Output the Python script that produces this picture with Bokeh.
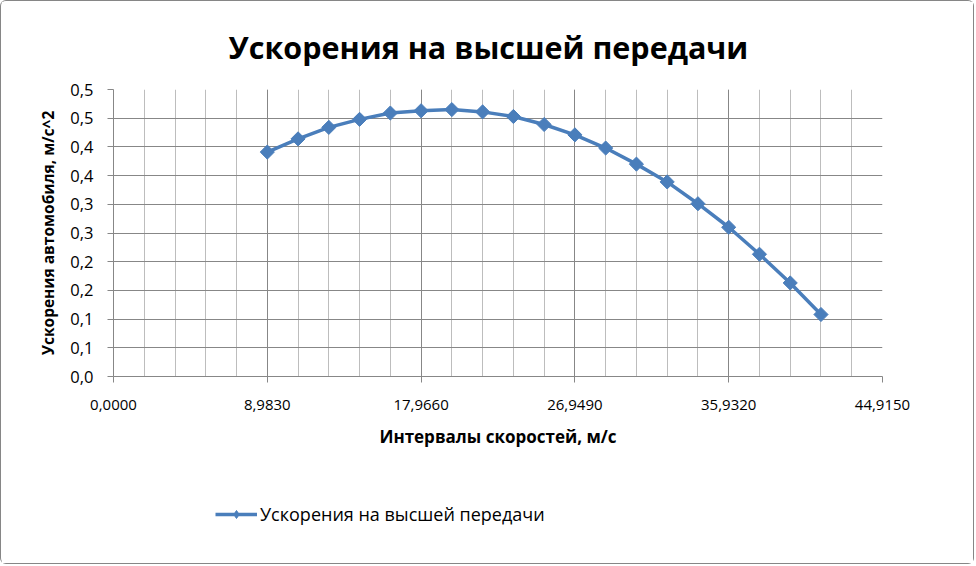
import numpy as np
from bokeh.plotting import figure
from bokeh.layouts import column
from bokeh.models import FixedTicker, Legend, LegendItem, Range1d, InlineStyleSheet, CustomJSTickFormatter
from bokeh.embed import file_html
from bokeh.resources import INLINE

# ---- data ----
speeds = [8.983, 10.7796, 12.5762, 14.3728, 16.1694, 17.966, 19.7626, 21.5592, 23.3558,
          25.1524, 26.949, 28.7456, 30.5422, 32.3388, 34.1354, 35.932, 37.7286, 39.5252, 41.3218]
accel = [0.391, 0.414, 0.434, 0.448, 0.459, 0.463, 0.465, 0.461, 0.453,
         0.439, 0.421, 0.398, 0.370, 0.339, 0.301, 0.260, 0.213, 0.163, 0.108]

x_ticks = [0, 8.983, 17.966, 26.949, 35.932, 44.915]
x_tick_labels = ["0,0000", "8,9830", "17,9660", "26,9490", "35,9320", "44,9150"]
y_ticks = [0, 0.05, 0.1, 0.15, 0.2, 0.25, 0.3, 0.35, 0.4, 0.45, 0.5]
y_tick_labels = ["0,0", "0,1", "0,1", "0,2", "0,2", "0,3", "0,3", "0,4", "0,4", "0,5", "0,5"]

title_text = "Ускорения на высшей передачи"
x_title = "Интервалы скоростей, м/с"
y_title = "Ускорения автомобиля, м/с^2"
series_name = "Ускорения на высшей передачи"

FONT = "Open Sans"
BLUE = "#4a7ebb"
GRID = "#878787"
MINOR = "#bdbdbd"
BORDER = "#868686"

x_minor = list(np.linspace(0, 44.915, 26))

p = figure(width=974, height=470, output_backend="svg", toolbar_location=None,
           x_range=Range1d(0, 44.915), y_range=Range1d(0, 0.5),
           min_border_left=112, min_border_right=93, min_border_top=88, min_border_bottom=95)
p.stylesheets = [InlineStyleSheet(css=f":host {{ border: 1px solid {BORDER}; border-bottom: none; border-radius: 6px 6px 0 0; }}")]

p.title.text = title_text
p.title.align = "left"
p.title.text_font = FONT
p.title.text_font_style = "bold"
p.title.text_font_size = "30.5px"
p.title.text_color = "black"
p.title.offset = 115
p.title.standoff = 44

p.outline_line_color = None
p.background_fill_color = "white"

fmt_code = """
let best = 0;
for (let i = 0; i < t.length; i++) {
  if (Math.abs(t[i] - tick) < Math.abs(t[best] - tick)) best = i;
}
return l[best];
"""

xa = p.xaxis[0]
xa.ticker = FixedTicker(ticks=x_ticks, minor_ticks=x_minor)
xa.formatter = CustomJSTickFormatter(args=dict(t=x_ticks, l=x_tick_labels), code=fmt_code)
ya = p.yaxis[0]
ya.ticker = FixedTicker(ticks=y_ticks)
ya.formatter = CustomJSTickFormatter(args=dict(t=y_ticks, l=y_tick_labels), code=fmt_code)

for ax in (xa, ya):
    ax.axis_line_color = GRID
    ax.major_tick_line_color = GRID
    ax.major_tick_out = 6
    ax.major_tick_in = 0
    ax.minor_tick_line_color = None
    ax.major_label_text_font = FONT
    ax.major_label_text_color = "black"
    ax.axis_label_text_font = FONT
    ax.axis_label_text_font_style = "bold"
    ax.axis_label_text_color = "black"

xa.major_label_text_font_size = "15px"
ya.major_label_text_font_size = "16.5px"
xa.axis_label = x_title
xa.axis_label_text_font_size = "17px"
xa.major_label_standoff = 17
xa.axis_label_standoff = 12
ya.axis_label = y_title
ya.axis_label_text_font_size = "15.5px"
ya.major_label_standoff = 14
ya.axis_label_standoff = 8

p.xgrid.grid_line_color = GRID
p.xgrid.minor_grid_line_color = MINOR
p.ygrid.grid_line_color = GRID

p.line(speeds, accel, line_color=BLUE, line_width=3.5)
p.scatter(speeds, accel, marker="square", size=10, angle=np.pi / 4,
          fill_color=BLUE, line_color=BLUE)

# ---- legend strip below the chart ----
p2 = figure(width=974, height=94, output_backend="svg", toolbar_location=None,
            x_range=Range1d(0, 1), y_range=Range1d(0, 1), min_border=0)
p2.stylesheets = [InlineStyleSheet(css=f":host {{ border: 1px solid {BORDER}; border-top: none; border-radius: 0 0 6px 6px; }}")]
p2.axis.visible = False
p2.grid.visible = False
p2.outline_line_color = None
ln2 = p2.line(speeds, accel, line_color=BLUE, line_width=3.5, visible=False)
mk2 = p2.scatter(speeds, accel, marker="diamond", size=12,
                 fill_color=BLUE, line_color=BLUE, visible=False)

legend = Legend(items=[LegendItem(label=series_name, renderers=[ln2, mk2])],
                location=(102, 38), orientation="horizontal",
                padding=0, margin=0, spacing=0,
                glyph_width=42, glyph_height=20, label_standoff=3,
                label_text_font=FONT, label_text_font_size="18px",
                label_text_color="black",
                inactive_fill_alpha=0,
                border_line_color=None, background_fill_alpha=0)
p2.add_layout(legend, "center")

layout = column(p, p2, spacing=0)
open("out.html", "w").write(file_html(layout, INLINE))
